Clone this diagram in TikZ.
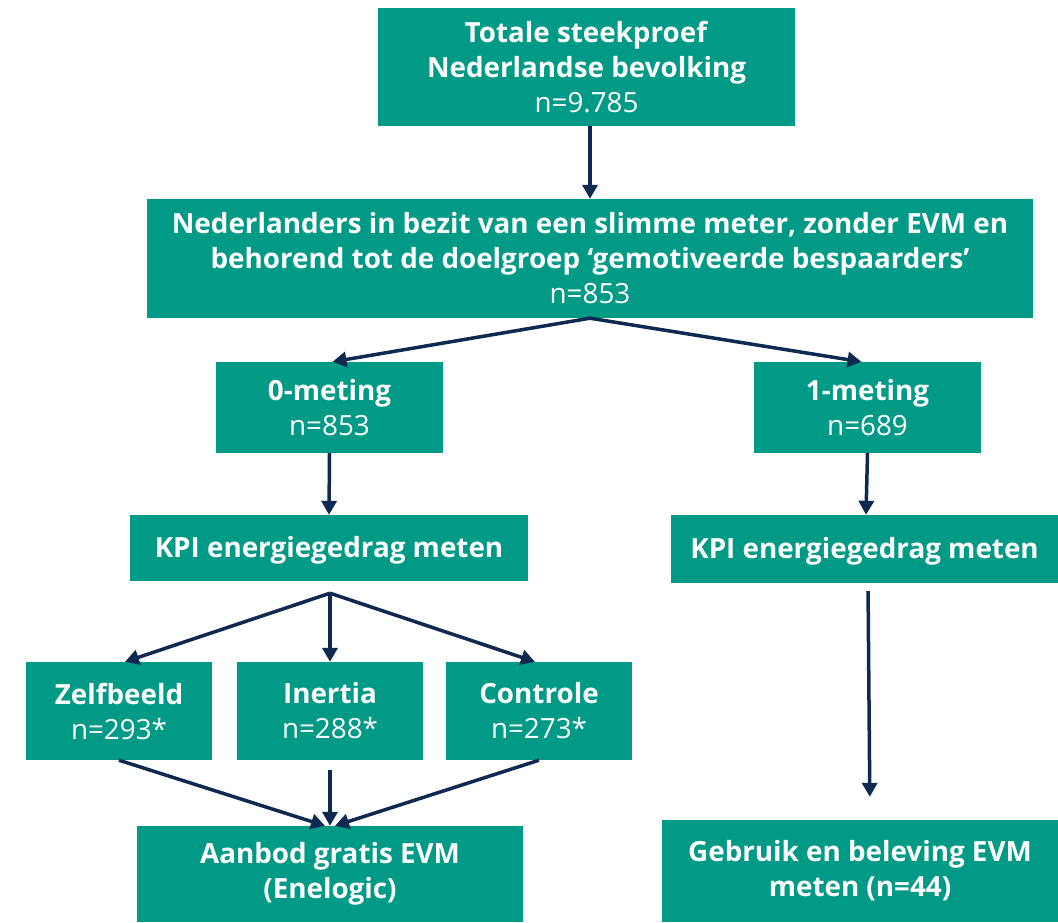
\documentclass[tikz,border=0pt]{standalone}
\usepackage{fontspec}
\setmainfont{Open Sans}
\usetikzlibrary{arrows.meta,calc}
\definecolor{boxteal}{HTML}{009A86}
\definecolor{arrnavy}{HTML}{0E2A50}
\begin{document}
\begin{tikzpicture}[x=1pt,y=-1pt,
  box/.style={fill=boxteal, text=white, align=center, inner sep=0pt,
    font=\fontsize{27.8}{35}\selectfont,
    execute at begin node={\rule{0pt}{26pt}}},
  arr/.style={draw=arrnavy, line width=3.5pt, line join=round,
    -{Triangle[width=15pt,length=14pt]}}]
\useasboundingbox[fill=white] (0,0) rectangle (1058,922);

\node[box, minimum width=417pt, minimum height=118pt] (top) at (586.5,67)
  {\textbf{Totale steekproef}\\\textbf{Nederlandse bevolking}\\n=9.785};
\node[box, minimum width=886pt, minimum height=119pt] (doel) at (590,258.5)
  {\textbf{Nederlanders in bezit van een slimme meter, zonder EVM en}\\\textbf{behorend tot de doelgroep ‘gemotiveerde bespaarders’}\\n=853};
\node[box, minimum width=227pt, minimum height=91pt] (m0) at (329.5,407.5)
  {\textbf{0-meting}\\n=853};
\node[box, minimum width=227pt, minimum height=91pt] (m1) at (867.5,407.5)
  {\textbf{1-meting}\\n=689};
\node[box, minimum width=398pt, minimum height=66pt] (kpi0) at (329,548)
  {\textbf{KPI energiegedrag meten}};
\node[box, minimum width=387pt, minimum height=68pt] (kpi1) at (864.5,549)
  {\textbf{KPI energiegedrag meten}};
\node[box, minimum width=186pt, minimum height=98pt] (zelf) at (119,711)
  {\textbf{Zelfbeeld}\\n=293*};
\node[box, minimum width=186pt, minimum height=98pt] (inert) at (330,711)
  {\textbf{Inertia}\\n=288*};
\node[box, minimum width=186pt, minimum height=98pt] (ctrl) at (539,711)
  {\textbf{Controle}\\n=273*};
\node[box, minimum width=386pt, minimum height=96pt] (aanbod) at (330,874)
  {\textbf{Aanbod gratis EVM}\\\textbf{(Enelogic)}};
\node[box, minimum width=396pt, minimum height=102pt] (gebr) at (860,871)
  {\textbf{Gebruik en beleving EVM}\\\textbf{meten (n=44)}};

\coordinate (sp2) at ($(kpi0.south)+(1,12)$);

\draw[arr] ([xshift=3.5pt]top.south) -- (doel.north);
\draw[arr] (doel.south) -- ([xshift=3pt]m0.north);
\draw[arr] (doel.south) -- ([xshift=-6pt]m1.north);
\draw[arr] (m0.south) -- (kpi0.north);
\draw[arr] (m1.south) -- ([xshift=1.5pt]kpi1.north);
\draw[arr] (sp2) -- ([xshift=6pt]zelf.north);
\draw[arr] (sp2) -- (inert.north);
\draw[arr] (sp2) -- ([xshift=-4pt]ctrl.north);
\draw[arr] (zelf.south) -- ([xshift=-5pt]aanbod.north);
\draw[arr, shorten <=10pt] (inert.south) -- (aanbod.north);
\draw[arr] (ctrl.south) -- ([xshift=5pt]aanbod.north);
\draw[arr, shorten <=8pt, shorten >=23pt] ([xshift=3.5pt]kpi1.south) -- ([xshift=10pt]gebr.north);
\end{tikzpicture}
\end{document}
